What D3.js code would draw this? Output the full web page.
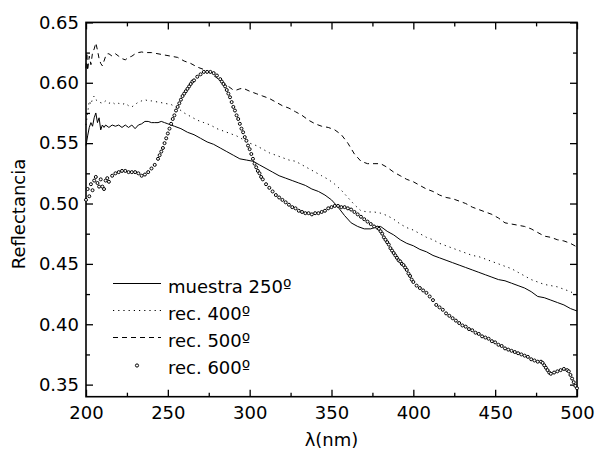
<!DOCTYPE html>
<html>
<head>
  <meta charset="utf-8">
  <title>Reflectancia</title>
  <style>
    body { margin: 0; background: #fff; }
    text { font-family: 'DejaVu Sans', sans-serif; fill: #000; }
  </style>
</head>
<body>
  <script src="https://d3js.org/d3.v7.min.js"></script>
  <script>
    const width = 595;
    const height = 453;

    // [lambda (nm), reflectance]
    const muestra250 = [
      [200, 0.548], [201, 0.556], [202, 0.563], [203, 0.567], [204, 0.564], [205, 0.571],
      [206, 0.575], [207, 0.567], [208, 0.571], [209, 0.561], [210, 0.565], [211, 0.563],
      [212, 0.565], [214, 0.563], [216, 0.565], [218, 0.564], [220, 0.565], [222, 0.563],
      [224, 0.565], [226, 0.563], [228, 0.565], [230, 0.562], [232, 0.565], [234, 0.566],
      [236, 0.568], [238, 0.568], [240, 0.567], [242, 0.567], [244, 0.567], [246, 0.568],
      [248, 0.567], [250, 0.566], [254, 0.564], [258, 0.562], [262, 0.559], [266, 0.557],
      [270, 0.554], [274, 0.551], [278, 0.549], [282, 0.546], [286, 0.543], [290, 0.540],
      [294, 0.537], [298, 0.536], [302, 0.535], [306, 0.532], [310, 0.529], [314, 0.526],
      [318, 0.523], [322, 0.521], [326, 0.519], [330, 0.517], [334, 0.515], [338, 0.512],
      [342, 0.510], [346, 0.507], [350, 0.503], [354, 0.497], [358, 0.490], [362, 0.484],
      [366, 0.481], [370, 0.479], [374, 0.479], [378, 0.481], [380, 0.481], [384, 0.477],
      [388, 0.474], [392, 0.470], [396, 0.467], [400, 0.465], [404, 0.462], [408, 0.460],
      [412, 0.457], [416, 0.455], [420, 0.453], [424, 0.451], [428, 0.449], [432, 0.447],
      [436, 0.445], [440, 0.443], [444, 0.441], [448, 0.439], [452, 0.437], [456, 0.436],
      [460, 0.434], [464, 0.432], [468, 0.430], [472, 0.427], [476, 0.423], [480, 0.422],
      [484, 0.420], [488, 0.418], [492, 0.416], [496, 0.413], [500, 0.411]
    ];

    const rec400 = [
      [200, 0.565], [201, 0.575], [202, 0.585], [203, 0.582], [204, 0.587], [205, 0.589],
      [206, 0.586], [208, 0.584], [210, 0.583], [212, 0.585], [214, 0.583], [216, 0.584],
      [218, 0.582], [220, 0.583], [222, 0.582], [224, 0.583], [226, 0.581], [228, 0.580],
      [230, 0.582], [232, 0.584], [234, 0.585], [236, 0.586], [238, 0.585], [240, 0.585],
      [244, 0.584], [248, 0.583], [252, 0.582], [256, 0.579], [260, 0.575], [264, 0.572],
      [268, 0.569], [272, 0.567], [276, 0.565], [280, 0.562], [284, 0.560], [288, 0.558],
      [292, 0.556], [296, 0.553], [300, 0.550], [304, 0.548], [308, 0.545], [312, 0.542],
      [316, 0.540], [320, 0.538], [324, 0.536], [328, 0.535], [332, 0.532], [336, 0.529],
      [340, 0.526], [344, 0.523], [348, 0.520], [352, 0.516], [356, 0.511], [360, 0.505],
      [364, 0.499], [368, 0.494], [372, 0.493], [376, 0.493], [380, 0.492], [384, 0.490],
      [388, 0.487], [392, 0.483], [396, 0.480], [400, 0.478], [404, 0.475], [408, 0.472],
      [412, 0.470], [416, 0.467], [420, 0.465], [424, 0.463], [428, 0.461], [432, 0.459],
      [436, 0.457], [440, 0.456], [444, 0.454], [448, 0.452], [452, 0.450], [456, 0.448],
      [460, 0.446], [464, 0.443], [468, 0.440], [472, 0.437], [476, 0.435], [480, 0.433],
      [484, 0.432], [488, 0.431], [492, 0.429], [496, 0.427], [500, 0.424]
    ];

    const rec500 = [
      [200, 0.612], [200.5, 0.625], [201, 0.610], [202, 0.622], [203, 0.615], [204, 0.625],
      [205, 0.628], [206, 0.633], [207, 0.627], [208, 0.620], [209, 0.616], [210, 0.614],
      [211, 0.618], [212, 0.622], [213, 0.624], [214, 0.624], [216, 0.622], [218, 0.624],
      [220, 0.622], [222, 0.620], [224, 0.619], [226, 0.621], [228, 0.622], [230, 0.624],
      [232, 0.625], [234, 0.6255], [236, 0.625], [240, 0.625], [244, 0.624], [248, 0.623],
      [252, 0.622], [256, 0.621], [260, 0.618], [264, 0.616], [268, 0.613], [272, 0.611],
      [276, 0.608], [280, 0.604], [284, 0.600], [288, 0.596], [290, 0.594], [292, 0.594],
      [294, 0.595], [296, 0.5955], [300, 0.593], [304, 0.591], [308, 0.589], [312, 0.587],
      [316, 0.584], [320, 0.581], [324, 0.579], [328, 0.576], [332, 0.573], [336, 0.569],
      [340, 0.566], [344, 0.564], [348, 0.563], [352, 0.561], [356, 0.557], [360, 0.550],
      [364, 0.541], [368, 0.535], [372, 0.533], [376, 0.533], [380, 0.533], [384, 0.530],
      [388, 0.526], [392, 0.523], [396, 0.520], [400, 0.518], [404, 0.515], [408, 0.512],
      [412, 0.510], [416, 0.507], [420, 0.505], [424, 0.504], [428, 0.502], [432, 0.500],
      [436, 0.497], [440, 0.495], [444, 0.493], [448, 0.491], [452, 0.488], [456, 0.484],
      [460, 0.483], [464, 0.482], [468, 0.481], [472, 0.479], [476, 0.476], [480, 0.473],
      [484, 0.472], [488, 0.470], [492, 0.469], [496, 0.467], [500, 0.464]
    ];

    const rec600 = [
      [200, 0.503], [201, 0.512], [202, 0.506], [203, 0.516], [204, 0.511], [205, 0.519],
      [206, 0.522], [207, 0.517], [208, 0.514], [209, 0.520], [210, 0.514], [211, 0.512],
      [212, 0.519], [213, 0.521], [214, 0.518], [216, 0.523], [218, 0.525], [220, 0.526],
      [222, 0.527], [224, 0.527], [226, 0.526], [228, 0.526], [230, 0.526], [232, 0.525],
      [234, 0.523], [236, 0.524], [238, 0.526], [240, 0.529], [242, 0.532], [244, 0.537],
      [245, 0.540], [246, 0.543], [247, 0.546], [248, 0.550], [249, 0.554], [250, 0.558],
      [251, 0.562], [252, 0.566], [253, 0.570], [254, 0.573], [255, 0.577], [256, 0.580],
      [257, 0.583], [258, 0.586], [259, 0.589], [260, 0.591], [261, 0.593], [262, 0.595],
      [263, 0.597], [264, 0.599], [265, 0.601], [266, 0.602], [268, 0.605], [270, 0.607],
      [272, 0.609], [274, 0.609], [276, 0.609], [278, 0.608], [280, 0.606], [282, 0.603],
      [283, 0.601], [284, 0.599], [285, 0.597], [286, 0.594], [287, 0.591], [288, 0.588],
      [289, 0.584], [290, 0.580], [291, 0.577], [292, 0.573], [293, 0.570], [294, 0.566],
      [295, 0.562], [296, 0.559], [297, 0.555], [298, 0.552], [299, 0.548], [300, 0.545],
      [301, 0.541], [302, 0.537], [303, 0.533], [304, 0.530], [305, 0.527], [306, 0.525],
      [307, 0.522], [308, 0.520], [310, 0.516], [312, 0.513], [314, 0.510], [316, 0.507],
      [318, 0.505], [320, 0.503], [322, 0.501], [324, 0.499], [326, 0.497], [328, 0.496],
      [330, 0.494], [332, 0.493], [334, 0.492], [336, 0.492], [338, 0.491], [340, 0.492],
      [342, 0.492], [344, 0.493], [346, 0.494], [348, 0.496], [350, 0.497], [352, 0.498],
      [354, 0.498], [356, 0.497], [358, 0.497], [360, 0.496], [362, 0.495], [364, 0.493],
      [366, 0.491], [368, 0.489], [370, 0.487], [372, 0.485], [374, 0.483], [376, 0.481],
      [378, 0.480], [379, 0.479], [380, 0.477], [381, 0.475], [382, 0.472], [383, 0.470],
      [384, 0.468], [385, 0.466], [386, 0.463], [387, 0.461], [388, 0.459], [389, 0.457],
      [390, 0.455], [391, 0.453], [392, 0.452], [393, 0.450], [394, 0.449], [395, 0.447],
      [396, 0.445], [397, 0.442], [398, 0.440], [399, 0.437], [400, 0.435], [402, 0.432],
      [404, 0.430], [406, 0.428], [408, 0.426], [410, 0.423], [412, 0.420], [414, 0.416],
      [416, 0.414], [418, 0.412], [420, 0.409], [422, 0.407], [424, 0.405], [426, 0.403],
      [428, 0.401], [430, 0.399], [432, 0.398], [434, 0.396], [436, 0.395], [438, 0.393],
      [440, 0.392], [442, 0.390], [444, 0.389], [446, 0.388], [448, 0.386], [450, 0.385],
      [452, 0.383], [454, 0.382], [456, 0.380], [458, 0.379], [460, 0.378], [462, 0.377],
      [464, 0.376], [466, 0.375], [468, 0.374], [470, 0.373], [472, 0.371], [474, 0.370],
      [476, 0.369], [478, 0.369], [479, 0.368], [480, 0.366], [481, 0.364], [482, 0.362],
      [483, 0.360], [484, 0.359], [486, 0.360], [488, 0.361], [490, 0.362], [492, 0.363],
      [494, 0.362], [495, 0.361], [496, 0.358], [497, 0.355], [498, 0.352], [499, 0.349],
      [500, 0.347]
    ];

    const xMajorTicks = [200, 250, 300, 350, 400, 450, 500];
    const xMinorTicks = [225, 275, 325, 375, 425, 475];
    const yMajorTicks = [0.35, 0.40, 0.45, 0.50, 0.55, 0.60, 0.65];
    const yMinorTicks = [0.375, 0.425, 0.475, 0.525, 0.575, 0.625];

    const legendLabels = ['muestra 250º', 'rec. 400º', 'rec. 500º', 'rec. 600º'];

    const plotL = 86, plotR = 577, plotT = 22.4, plotB = 396.7;

    const x = d3.scaleLinear().domain([200, 500]).range([plotL, plotR]);
    const y = d3.scaleLinear().domain([0.34, 0.65]).range([plotB, plotT]);

    const svg = d3.select('body')
      .append('svg')
      .attr('width', width)
      .attr('height', height);

    const noDomain = (g) => g.select('.domain').remove();
    const tickStyle = (g) => g.selectAll('line').attr('stroke', '#000').attr('stroke-width', 1.3);

    // bottom
    svg.append('g')
      .attr('transform', `translate(0,${plotB})`)
      .call(d3.axisBottom(x).tickValues(xMajorTicks).tickSize(-7).tickPadding(10).tickFormat(d3.format('d')))
      .call(noDomain).call(tickStyle)
      .selectAll('text').style('font-size', '18px').style('font-family', 'DejaVu Sans');
    svg.append('g')
      .attr('transform', `translate(0,${plotB})`)
      .call(d3.axisBottom(x).tickValues(xMinorTicks).tickSize(-4).tickFormat(''))
      .call(noDomain).call(tickStyle);
    // top
    svg.append('g')
      .attr('transform', `translate(0,${plotT})`)
      .call(d3.axisTop(x).tickValues(xMajorTicks).tickSize(-7).tickFormat(''))
      .call(noDomain).call(tickStyle);
    svg.append('g')
      .attr('transform', `translate(0,${plotT})`)
      .call(d3.axisTop(x).tickValues(xMinorTicks).tickSize(-4).tickFormat(''))
      .call(noDomain).call(tickStyle);
    // left
    svg.append('g')
      .attr('transform', `translate(${plotL},0)`)
      .call(d3.axisLeft(y).tickValues(yMajorTicks).tickSize(-7).tickPadding(7).tickFormat(d3.format('.2f')))
      .call(noDomain).call(tickStyle)
      .selectAll('text').style('font-size', '18px').style('font-family', 'DejaVu Sans');
    svg.append('g')
      .attr('transform', `translate(${plotL},0)`)
      .call(d3.axisLeft(y).tickValues(yMinorTicks).tickSize(-4).tickFormat(''))
      .call(noDomain).call(tickStyle);
    // right
    svg.append('g')
      .attr('transform', `translate(${plotR},0)`)
      .call(d3.axisRight(y).tickValues(yMajorTicks).tickSize(-7).tickFormat(''))
      .call(noDomain).call(tickStyle);
    svg.append('g')
      .attr('transform', `translate(${plotR},0)`)
      .call(d3.axisRight(y).tickValues(yMinorTicks).tickSize(-4).tickFormat(''))
      .call(noDomain).call(tickStyle);

    svg.append('rect')
      .attr('x', plotL).attr('y', plotT)
      .attr('width', plotR - plotL).attr('height', plotB - plotT)
      .attr('fill', 'none').attr('stroke', '#000').attr('stroke-width', 1.6);

    const line = d3.line().x((d) => x(d[0])).y((d) => y(d[1]));

    const lineSeries = [
      { data: muestra250, dash: null },
      { data: rec400, dash: '1.2,4' },
      { data: rec500, dash: '5,4' }
    ];

    svg.append('g')
      .selectAll('path')
      .data(lineSeries)
      .join('path')
      .attr('d', (d) => line(d.data))
      .attr('fill', 'none')
      .attr('stroke', '#000')
      .attr('stroke-width', 1)
      .attr('stroke-dasharray', (d) => d.dash);

    svg.append('g')
      .selectAll('circle')
      .data(rec600)
      .join('circle')
      .attr('cx', (d) => x(d[0]))
      .attr('cy', (d) => y(d[1]))
      .attr('r', 1.5)
      .attr('fill', '#fff')
      .attr('stroke', '#000')
      .attr('stroke-width', 1);

    // legend
    const legend = svg.append('g');
    const rowY = (i) => 283.5 + i * 27;
    legend.selectAll('line')
      .data(lineSeries)
      .join('line')
      .attr('x1', 113).attr('x2', 161)
      .attr('y1', (d, i) => rowY(i)).attr('y2', (d, i) => rowY(i))
      .attr('stroke', '#000').attr('stroke-width', 1)
      .attr('stroke-dasharray', (d) => d.dash);
    legend.append('circle')
      .attr('cx', 137).attr('cy', rowY(3) + 1)
      .attr('r', 1.6).attr('fill', '#fff')
      .attr('stroke', '#000').attr('stroke-width', 1);
    legend.selectAll('text')
      .data(legendLabels)
      .join('text')
      .attr('x', 168)
      .attr('y', (d, i) => rowY(i) + 9)
      .style('font-size', '18px')
      .text((d) => d);

    svg.append('text')
      .attr('transform', `translate(25,214) rotate(-90)`)
      .attr('text-anchor', 'middle')
      .style('font-size', '18px')
      .text('Reflectancia');

    svg.append('text')
      .attr('x', (plotL + plotR) / 2)
      .attr('y', 446)
      .attr('text-anchor', 'middle')
      .style('font-size', '18px')
      .text('λ(nm)');
  </script>
</body>
</html>
